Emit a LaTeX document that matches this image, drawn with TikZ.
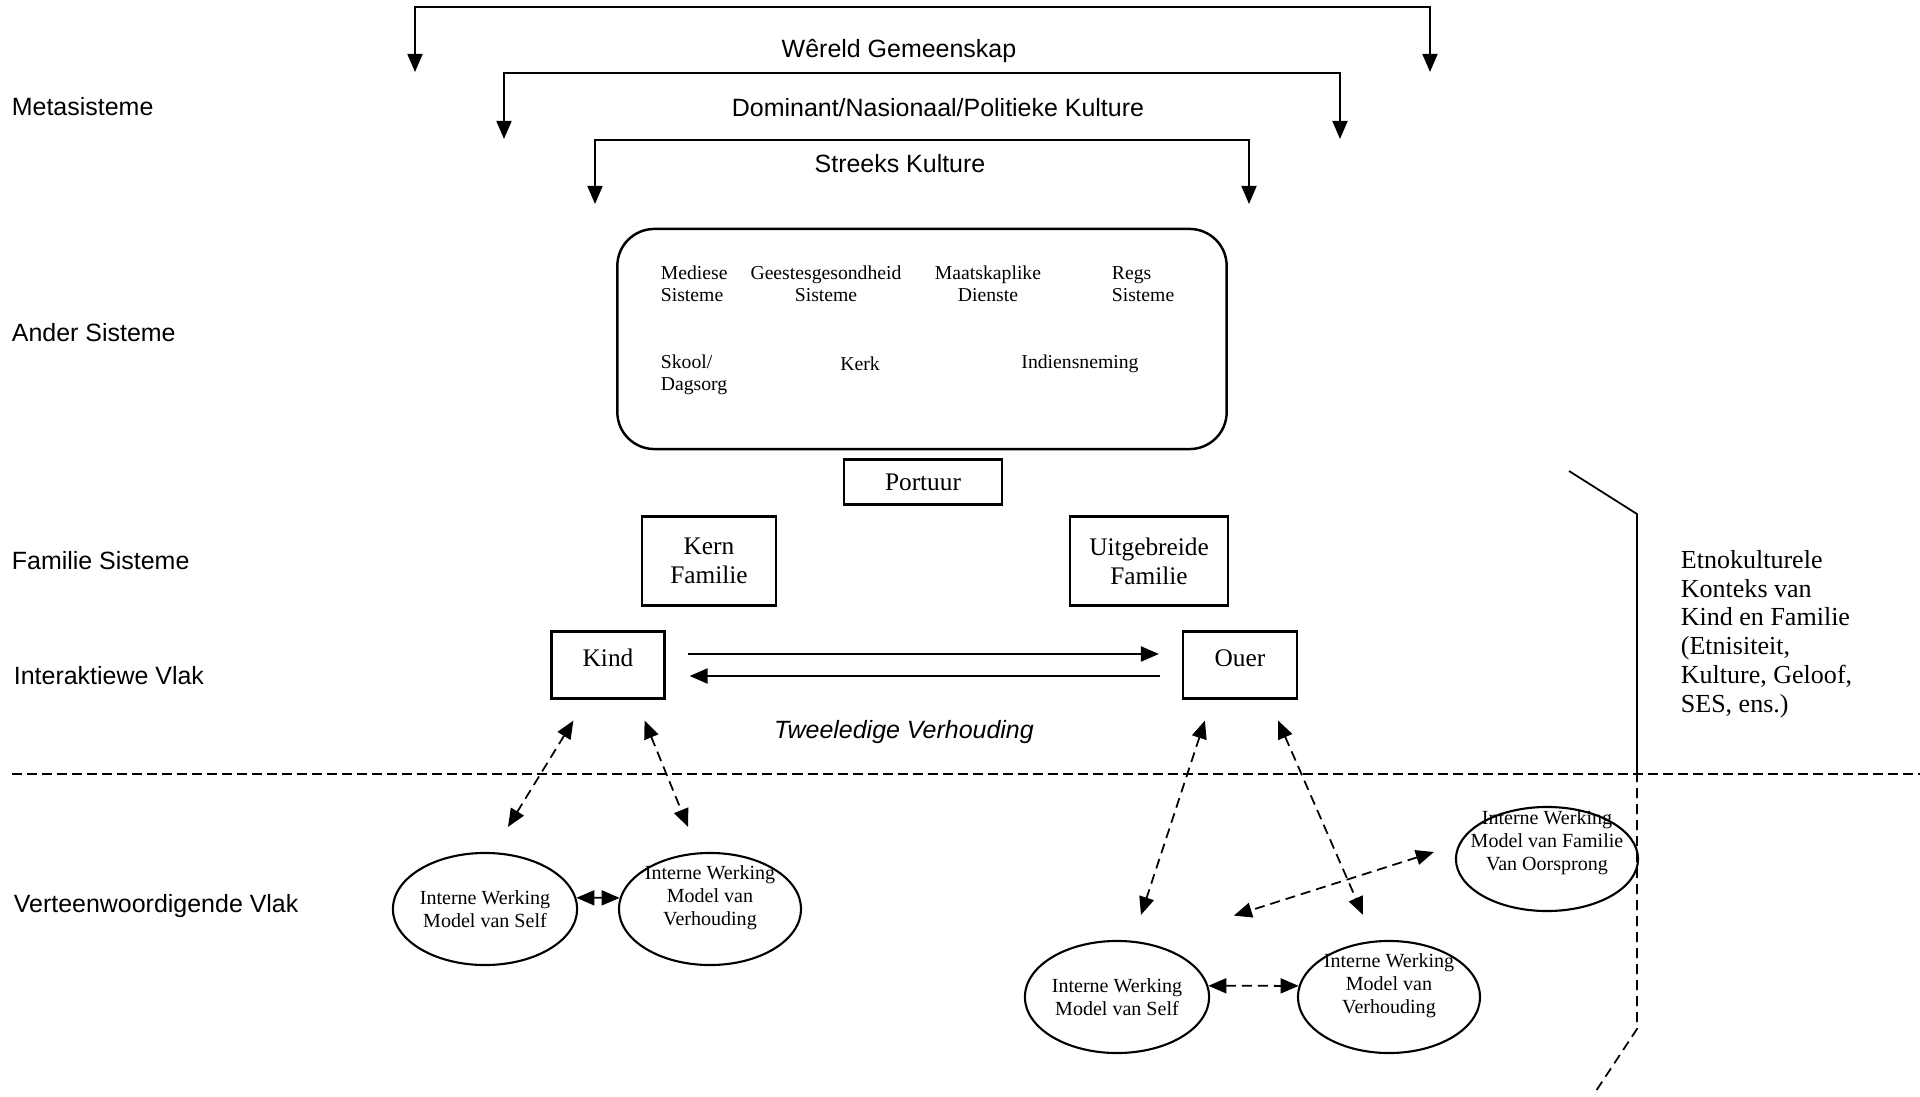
\documentclass[tikz,border=0pt]{standalone}
\usepackage{fontspec}
\setmainfont{Liberation Serif}
\setsansfont{Liberation Sans}
\usetikzlibrary{arrows.meta,shapes.geometric,calc}
\tikzset{
  >={Triangle[length=1.8mm,width=1.5mm]},
  lvl/.style={font=\sffamily\fontsize{7.1}{8.5}\selectfont, anchor=west, inner sep=0},
  ring/.style={font=\sffamily\fontsize{7.1}{8.5}\selectfont, inner sep=0},
  sysbox/.style={draw, line width=0.6pt, align=center, inner sep=0, font=\fontsize{7.2}{8.2}\selectfont},
  sysitem/.style={align=center, inner sep=0, font=\fontsize{5.6}{6.3}\selectfont},
  iwm/.style={draw, ellipse, line width=0.6pt, minimum width=1.82cm, minimum height=1.12cm, inner sep=0, align=center, font=\fontsize{5.7}{6.6}\selectfont},
  iwmtext/.style={align=center, inner sep=0, font=\fontsize{5.7}{6.6}\selectfont},
  dashline/.style={line width=0.5pt, dash pattern=on 0.1cm off 0.06cm},
  link/.style={dashline, <->},
}
\begin{document}
\begin{tikzpicture}[x=0.01cm, y=-0.01cm, line width=0.5pt]
\useasboundingbox (0,0) rectangle (1920,1097);
% levels
\node[lvl] (meta) at (11,107) {Metasisteme};
\node[lvl] (ander) at (11,333) {Ander Sisteme};
\node[lvl] (fam) at (11,561) {Familie Sisteme};
\node[lvl] (inter) at (13,676) {Interaktiewe Vlak};
\node[lvl] (verteen) at (13,906) {Verteenwoordigende Vlak};
% brackets
\coordinate (wl) at (415,72);  \coordinate (wr) at (1430,72);
\coordinate (nl) at (504,139); \coordinate (nr) at (1340,139);
\coordinate (sl) at (595,204); \coordinate (sr) at (1249,204);
\draw[<->] (wl) -- ++(0,-65) -| (wr);
\draw[<->] (nl) -- ++(0,-66) -| (nr);
\draw[<->] (sl) -- ++(0,-64) -| (sr);
\node[ring] (wereld) at (899,51) {Wêreld Gemeenskap};
\node[ring] (nasionaal) at (938,108) {Dominant/Nasionaal/Politieke Kulture};
\node[ring] (streeks) at (900,164) {Streeks Kulture};
% other systems
\node[draw, line width=0.7pt, rounded corners=0.37cm, minimum width=6.09cm, minimum height=2.2cm] (ander box) at (922,339) {};
\node[sysitem, align=left, anchor=west] (mediese) at (660,284) {Mediese\\Sisteme};
\node[sysitem] (geestes) at (826,284) {Geestesgesondheid\\Sisteme};
\node[sysitem] (maatskaplik) at (988,284) {Maatskaplike\\Dienste};
\node[sysitem, align=left, anchor=west] (regs) at (1111,284) {Regs\\Sisteme};
\node[sysitem, align=left, anchor=west] (skool) at (660,375) {Skool/\\Dagsorg};
\node[sysitem] (kerk) at (860,364) {Kerk};
\node[sysitem] (indiens) at (1080,364) {Indiensneming};
\node[sysbox, minimum width=1.58cm, minimum height=0.45cm] (portuur) at (923,482) {Portuur};
% family
\node[sysbox, minimum width=1.34cm, minimum height=0.89cm] (kern) at (709,561) {Kern\\Familie};
\node[sysbox, minimum width=1.58cm, minimum height=0.89cm] (uitgebreid) at (1149,561) {Uitgebreide\\Familie};
\node[sysbox, minimum width=1.13cm, minimum height=0.67cm, text depth=0.14cm] (kind) at (608,665) {Kind};
\node[sysbox, minimum width=1.14cm, minimum height=0.67cm, text depth=0.14cm] (ouer) at (1240,665) {Ouer};
\draw[->, line width=0.6pt, shorten <=0.22cm, shorten >=0.23cm] ([yshift=0.11cm]kind.east) -- ([yshift=0.11cm]ouer.west);
\draw[->, line width=0.6pt, shorten <=0.22cm, shorten >=0.24cm] ([yshift=-0.11cm]ouer.west) -- ([yshift=-0.11cm]kind.east);
\node[font=\sffamily\itshape\fontsize{7.1}{8.5}\selectfont, inner sep=0] (tweeledig) at (904,732) {Tweeledige Verhouding};
% divider
\coordinate (d1) at (12,774); \coordinate (d2) at (1920,774);
\draw[line width=0.5pt, dash pattern=on 0.1cm off 0.05cm] (d1) -- (d2);
% working models
\node[iwm] (selfL) at (485,909) {Interne Werking\\Model van Self};
\node[iwm] (relL) at (710,909) {};
\node[iwmtext] at ([yshift=0.11cm]relL.center) {Interne Werking\\Model van\\Verhouding};
\node[iwm] (selfR) at (1117,997) {Interne Werking\\Model van Self};
\node[iwm] (relR) at (1389,997) {};
\node[iwmtext] at ([yshift=0.11cm]relR.center) {Interne Werking\\Model van\\Verhouding};
\node[iwm, minimum height=1.04cm] (oorsprong) at (1547,859) {};
\node[iwmtext] at ([yshift=0.16cm]oorsprong.center) {Interne Werking\\Model van Familie\\Van Oorsprong};
\draw[link] ($(kind.south west)+(23,21)$) -- ($(selfL.north)+(23,-25)$);
\draw[link] ($(kind.south east)+(-21,21)$) -- ($(relL.north)+(-22,-25)$);
\draw[link] ($(ouer.south west)+(23,21)$) -- ($(selfR.north)+(24,-25)$);
\draw[link] ($(ouer.south east)+(-20,21)$) -- ($(relR.north)+(-26,-25)$);
\draw[<->] (selfL.7) -- (relL.173);
\draw[link] (selfR.7) -- (relR.173);
\draw[link] ($(oorsprong.west)+(-21,-7)$) -- ($(selfR.north east)+(51,-41)$);
% ethnocultural context
\coordinate (e1) at (1569,471); \coordinate (e2) at (1637,514);
\coordinate (e3) at (1637,772); \coordinate (e4) at (1637,1029);
\coordinate (e5) at (1594,1094);
\draw (e1) -- (e2) -- (e3);
\draw[dashline] (e3) -- (e4) -- (e5);
\node[align=left, anchor=west, inner sep=0, font=\fontsize{7.4}{8.2}\selectfont] (etno) at (1680,634) {Etnokulturele\\Konteks van\\Kind en Familie\\(Etnisiteit,\\Kulture, Geloof,\\SES, ens.)};
\end{tikzpicture}
\end{document}
